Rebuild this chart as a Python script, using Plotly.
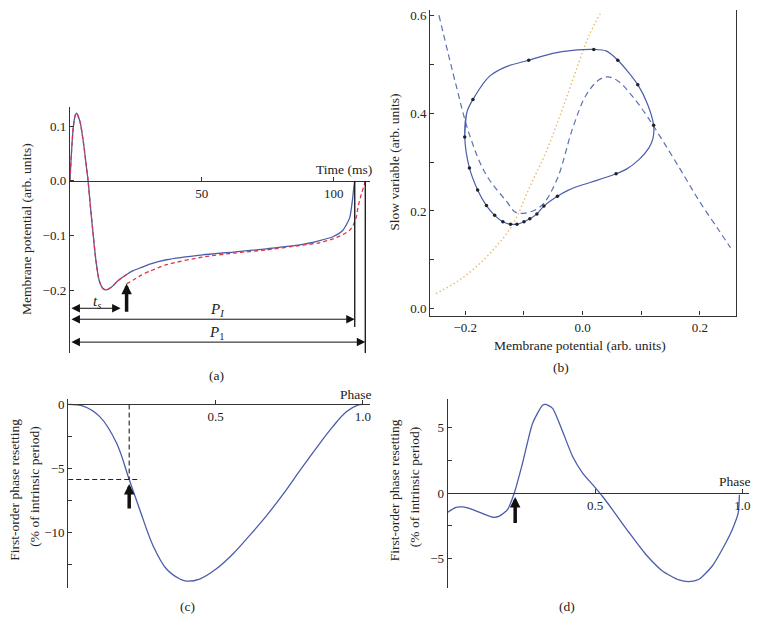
import plotly.graph_objects as go

W, H = 759, 633
FONT = "Liberation Serif"
BLUE = "#4a5dab"
RED = "#e03444"
NULLC = "#5a72b5"
ORANGE = "#e9b566"
AXC = "#333333"

# ---------------- Panel (a): membrane potential vs time ----------------
a_time = [0, 0.63, 1.26, 1.9, 2.5, 3.8, 5.05, 6.3, 6.9, 7.8, 8.8, 9.85, 11.1, 12.6,
          13.9, 15.8, 18.3, 21.5, 24.0, 27.1, 30.3, 36.6, 50.3, 61.9, 74.5, 87.1,
          94.7, 99.7, 103.5, 106.1, 107.1, 107.7, 108.0]
a_unpert = [0, 0.055, 0.097, 0.118, 0.124, 0.109, 0.073, 0.024, 0, -0.048, -0.097,
            -0.145, -0.182, -0.197, -0.199, -0.194, -0.182, -0.171, -0.164, -0.158,
            -0.152, -0.144, -0.135, -0.130, -0.124, -0.117, -0.109, -0.102, -0.090,
            -0.067, -0.036, -0.010, 0.0]
a_pert_time = [21.5, 24.0, 27.1, 30.3, 36.6, 50.3, 61.9, 74.5, 87.1, 94.7, 99.7,
               103.5, 106.1, 107.3, 108.5, 109.2, 110.5, 111.3, 112.0]
a_pert = [-0.188, -0.181, -0.172, -0.165, -0.153, -0.139, -0.132, -0.126, -0.118,
          -0.113, -0.106, -0.098, -0.090, -0.082, -0.068, -0.049, -0.024, -0.012, 0.0]
ts = 21.5      # stimulus time (ms)
PI = 108.0     # intrinsic period (ms)
P1 = 112.0     # perturbed period (ms)

# ---------------- Panel (b): phase plane ----------------
cyc_v = [-0.201, -0.197, -0.187, -0.159, -0.130, -0.092, -0.051, -0.017, 0.019, 0.040,
         0.060, 0.094, 0.111, 0.121, 0.120, 0.113, 0.096, 0.074, 0.057, 0.023, -0.004,
         -0.025, -0.043, -0.066, -0.078, -0.090, -0.100, -0.112, -0.123, -0.136,
         -0.150, -0.164, -0.179, -0.193, -0.201, -0.197, -0.187]
cyc_w = [0.351, 0.403, 0.428, 0.475, 0.495, 0.508, 0.522, 0.528, 0.530, 0.527,
         0.508, 0.458, 0.417, 0.375, 0.349, 0.329, 0.305, 0.285, 0.276, 0.262, 0.252,
         0.242, 0.230, 0.210, 0.194, 0.184, 0.178, 0.173, 0.173, 0.178,
         0.191, 0.211, 0.243, 0.288, 0.351, 0.403, 0.428]
dot_v = [-0.201, -0.187, -0.092, 0.019, 0.060, 0.094, 0.121, 0.057, -0.043, -0.066,
         -0.078, -0.090, -0.100, -0.112, -0.123, -0.136, -0.150, -0.164, -0.179, -0.193]
dot_w = [0.351, 0.428, 0.508, 0.530, 0.508, 0.458, 0.375, 0.276, 0.230, 0.210,
         0.194, 0.184, 0.178, 0.173, 0.173, 0.178, 0.191, 0.211, 0.243, 0.288]
vnull_v = [-0.245, -0.216, -0.193, -0.165, -0.130, -0.112, -0.074, -0.045, -0.017,
           0.006, 0.028, 0.043, 0.062, 0.085, 0.108, 0.130, 0.165, 0.199, 0.233, 0.252]
vnull_w = [0.600, 0.458, 0.356, 0.275, 0.220, 0.196, 0.207, 0.261, 0.369,
           0.437, 0.468, 0.474, 0.464, 0.434, 0.397, 0.356, 0.288, 0.220, 0.159, 0.125]
wnull_v = [-0.250, -0.204, -0.159, -0.119, -0.091, -0.062, -0.034, -0.006, 0.011, 0.030]
wnull_w = [0.031, 0.064, 0.112, 0.173, 0.247, 0.322, 0.410, 0.505, 0.559, 0.603]

# ---------------- Panel (c): first-order PRC ----------------
c_phase = [0, 0.051, 0.107, 0.164, 0.207, 0.243, 0.288, 0.333, 0.379, 0.401, 0.446,
           0.503, 0.559, 0.616, 0.672, 0.729, 0.785, 0.842, 0.898, 0.944, 0.983, 1.0]
c_prc = [0, -0.13, -0.95, -3.0, -5.85, -8.2, -11.0, -12.8, -13.6, -13.76, -13.6,
         -12.8, -11.65, -10.2, -8.7, -7.0, -5.2, -3.4, -1.73, -0.57, -0.05, 0]
c_stim_phase = 0.207
c_stim_prc = -5.85

# ---------------- Panel (d): first-order PRC ----------------
d_phase = [0, 0.028, 0.051, 0.085, 0.153, 0.175, 0.203, 0.226, 0.254, 0.288, 0.322,
           0.333, 0.356, 0.39, 0.424, 0.458, 0.492, 0.525, 0.559, 0.616, 0.672, 0.729,
           0.785, 0.819, 0.853, 0.898, 0.944, 0.966, 0.986, 0.99]
d_prc = [-1.48, -1.1, -1.07, -1.27, -1.86, -1.78, -1.27, 0, 2.29, 5.34, 6.74, 6.8,
         6.49, 4.71, 2.8, 1.53, 0.64, -0.25, -1.27, -3.05, -4.7, -5.98, -6.67, -6.8,
         -6.62, -5.6, -3.82, -2.8, -1.53, -0.13]
d_stim_phase = 0.229


def dom_x(x0, x1):
    return [x0 / W, x1 / W]


def dom_y(y0, y1):
    return [1 - y1 / H, 1 - y0 / H]


def zero_pos(dom, rng):
    return dom[0] + (0 - rng[0]) / (rng[1] - rng[0]) * (dom[1] - dom[0])


def P(xp, yp):
    return xp / W, 1 - yp / H


tickfont = dict(family=FONT, size=13, color="#222")

ax_common = dict(showgrid=False, zeroline=False, showline=True, linecolor=AXC,
                 linewidth=1.2, ticks="inside", ticklen=4, tickcolor=AXC,
                 tickfont=tickfont)

# domains / ranges
xa_dom, xa_rng = dom_x(70, 370), [0, 113.6]
ya_dom, ya_rng = dom_y(105, 353), [-0.315, 0.136]
xb_dom, xb_rng = dom_x(430.7, 737.3), [-0.26, 0.262]
yb_dom, yb_rng = dom_y(8, 315), [-0.0136, 0.6107]
xc_dom, xc_rng = dom_x(68.3, 370), [0, 1.0227]
yc_dom, yc_rng = dom_y(399.3, 588.3), [-14.26, 0.39]
xd_dom, xd_rng = dom_x(448.3, 750), [0, 1.0227]
yd_dom, yd_rng = dom_y(399.3, 588.3), [-7.25, 7.18]

fig = go.Figure()

# (a)
fig.add_trace(go.Scatter(x=a_time, y=a_unpert, mode="lines", xaxis="x", yaxis="y",
                         line=dict(color=BLUE, width=1.3, shape="spline", smoothing=0.6)))
fig.add_trace(go.Scatter(x=a_time[:a_time.index(ts) + 1], y=a_unpert[:a_time.index(ts) + 1],
                         mode="lines", xaxis="x", yaxis="y",
                         line=dict(color=RED, width=1.3, dash="4px,3px", shape="spline", smoothing=0.6)))
fig.add_trace(go.Scatter(x=a_pert_time, y=a_pert, mode="lines", xaxis="x", yaxis="y",
                         line=dict(color=RED, width=1.3, dash="4px,3px", shape="spline", smoothing=0.6)))

# (b)
fig.add_trace(go.Scatter(x=wnull_v, y=wnull_w, mode="lines", xaxis="x2", yaxis="y2",
                         line=dict(color=ORANGE, width=1.4, dash="1.4px,2.6px", shape="spline")))
fig.add_trace(go.Scatter(x=vnull_v, y=vnull_w, mode="lines", xaxis="x2", yaxis="y2",
                         line=dict(color=NULLC, width=1.2, dash="6px,4px", shape="spline")))
fig.add_trace(go.Scatter(x=cyc_v, y=cyc_w, mode="lines", xaxis="x2", yaxis="y2",
                         line=dict(color=BLUE, width=1.2, shape="spline", smoothing=0.8)))
fig.add_trace(go.Scatter(x=dot_v, y=dot_w, mode="markers", xaxis="x2", yaxis="y2",
                         marker=dict(color="#222", size=3.5)))

# (c)
fig.add_trace(go.Scatter(x=c_phase, y=c_prc, mode="lines", xaxis="x3", yaxis="y3",
                         line=dict(color=BLUE, width=1.3, shape="spline", smoothing=1.0)))
# (d)
fig.add_trace(go.Scatter(x=d_phase, y=d_prc, mode="lines", xaxis="x4", yaxis="y4",
                         line=dict(color=BLUE, width=1.3, shape="spline", smoothing=0.6)))

fig.update_layout(
    width=W, height=H, margin=dict(l=0, r=0, t=0, b=0),
    paper_bgcolor="white", plot_bgcolor="white", showlegend=False,
    font=dict(family=FONT, size=13, color="#222"),
    xaxis=dict(ax_common, domain=xa_dom, range=xa_rng, anchor="free",
               position=zero_pos(ya_dom, ya_rng), tickvals=[50, 100]),
    yaxis=dict(ax_common, domain=ya_dom, range=ya_rng, anchor="x",
               tickvals=[-0.2, -0.1, 0, 0.1], tickformat=".1f"),
    xaxis2=dict(ax_common, domain=xb_dom, range=xb_rng, anchor="y2", dtick=0.2, tick0=0,
                tickformat=".1f", minor=dict(dtick=0.1, tick0=0, ticks="inside", ticklen=4, tickcolor=AXC)),
    yaxis2=dict(ax_common, domain=yb_dom, range=yb_rng, anchor="x2", dtick=0.2, tick0=0,
                tickformat=".1f", mirror=True,
                minor=dict(dtick=0.1, tick0=0, ticks="inside", ticklen=4, tickcolor=AXC)),
    xaxis5=dict(overlaying="x2", side="top", anchor="y2", range=xb_rng, showline=True,
                linecolor="#c8c8c8", linewidth=1.2, showticklabels=False, ticks="",
                showgrid=False, zeroline=False),
    xaxis3=dict(ax_common, domain=xc_dom, range=xc_rng, anchor="free",
                position=zero_pos(yc_dom, yc_rng), tickvals=[0.5, 1.0], tickformat=".1f"),
    yaxis3=dict(ax_common, domain=yc_dom, range=yc_rng, anchor="x3", dtick=5, tick0=0,
                minor=dict(dtick=2.5, tick0=0, ticks="inside", ticklen=4, tickcolor=AXC)),
    xaxis4=dict(ax_common, domain=xd_dom, range=xd_rng, anchor="free",
                position=zero_pos(yd_dom, yd_rng), tickvals=[0.5, 1.0], tickformat=".1f"),
    yaxis4=dict(ax_common, domain=yd_dom, range=yd_rng, anchor="x4", dtick=5, tick0=0,
                minor=dict(dtick=2.5, tick0=0, ticks="inside", ticklen=4, tickcolor=AXC)),
)

# ---- shapes ----
shapes = [
    dict(type="line", xref="x", yref="y", x0=PI, x1=PI, y0=0, y1=-0.267,
         line=dict(color="#111", width=1.3)),
    dict(type="line", xref="x", yref="y", x0=P1, x1=P1, y0=0, y1=ya_rng[0],
         line=dict(color="#111", width=1.3)),
    dict(type="line", xref="x3", yref="y3", x0=c_stim_phase, x1=c_stim_phase, y0=0, y1=c_stim_prc,
         line=dict(color="#222", width=1.1, dash="5px,3px")),
    dict(type="line", xref="x3", yref="y3", x0=0, x1=0.245, y0=c_stim_prc, y1=c_stim_prc,
         line=dict(color="#222", width=1.1, dash="5px,3px")),
]
fig.update_layout(shapes=shapes)

# ---- annotations ----
ann = []


def text_paper(txt, xp, yp, size=13.5, angle=0):
    x, y = P(xp, yp)
    ann.append(dict(text=txt, x=x, y=y, xref="paper", yref="paper", showarrow=False,
                    textangle=angle, xanchor="center", yanchor="middle",
                    font=dict(family=FONT, size=size, color="#222")))


def dbl_arrow(xr, yr, x0, x1, y, standoff=0):
    ann.append(dict(x=x1, y=y, ax=x0, ay=y, xref=xr, yref=yr, axref=xr, ayref=yr,
                    text="", showarrow=True, arrowhead=2, startarrowhead=2,
                    arrowside="end+start", arrowsize=1.7, startarrowsize=1.7,
                    arrowwidth=1, arrowcolor="#111", standoff=standoff))


def thick_arrow(xr, yr, x, y_tail, y_tip):
    ann.append(dict(x=x, y=y_tip, ax=x, ay=y_tail, xref=xr, yref=yr, axref=xr, ayref=yr,
                    text="", showarrow=True, arrowhead=2, arrowsize=0.6,
                    arrowwidth=3.5, arrowcolor="#111"))


# (a)
dbl_arrow("x", "y", 0, ts, -0.2327, standoff=6)
dbl_arrow("x", "y", 0, PI, -0.2527)
dbl_arrow("x", "y", 0, P1, -0.2945)
thick_arrow("x", "y", ts, -0.242, -0.188)
ann.append(dict(text="<i>t<sub>s</sub></i>", x=10.2, y=-0.222, xref="x", yref="y",
                showarrow=False, font=dict(family=FONT, size=15, color="#222")))
ann.append(dict(text="<i>P<sub>I</sub></i>", x=55.7, y=-0.236, xref="x", yref="y",
                showarrow=False, font=dict(family=FONT, size=15, color="#222")))
ann.append(dict(text="<i>P</i><sub>1</sub>", x=55.7, y=-0.278, xref="x", yref="y",
                showarrow=False, font=dict(family=FONT, size=15, color="#222")))
text_paper("Time (ms)", 344, 168)
text_paper("Membrane potential (arb. units)", 27, 228, angle=-90)
text_paper("(a)", 217, 375)

# (b)
text_paper("Slow variable (arb. units)", 395, 161, angle=-90)
text_paper("Membrane potential (arb. units)", 581, 345)
text_paper("(b)", 562, 367)

# (c)
thick_arrow("x3", "y3", c_stim_phase, -8.22, -6.2)
text_paper("Phase", 356, 394)
text_paper("First-order phase resetting", 15, 490, angle=-90)
text_paper("(% of intrinsic period)", 35, 487, angle=-90)
text_paper("(c)", 188, 607)

# (d)
thick_arrow("x4", "y4", d_stim_phase, -2.42, -0.3)
text_paper("Phase", 736, 482)
text_paper("First-order phase resetting", 395, 490, angle=-90)
text_paper("(% of intrinsic period)", 415, 487, angle=-90)
text_paper("(d)", 568, 607)

fig.update_layout(annotations=ann)

fig.write_html("out.html", config={"displayModeBar": False},
               post_script="document.body.style.margin='0';document.body.style.overflow='hidden';")
